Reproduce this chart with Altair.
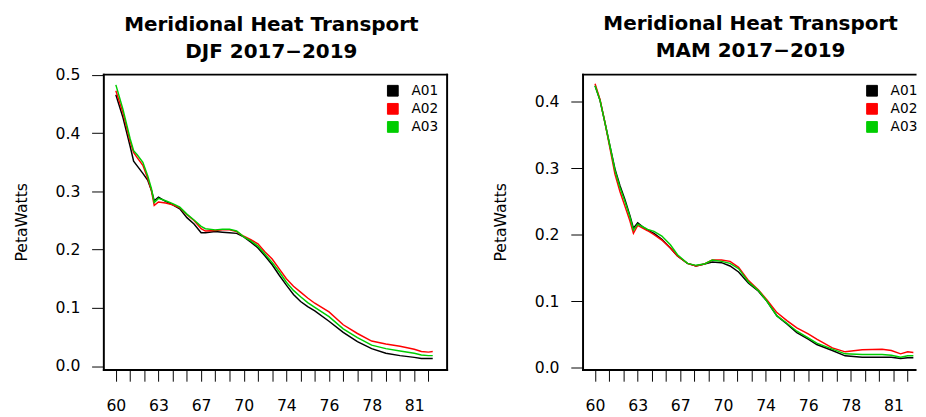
import altair as alt
import pandas as pd

# ---- data ----
series = ["A01", "A02", "A03"]
colors = ["#000000", "#FF0000", "#00CD00"]
tick_labels = ["60", "63", "67", "70", "74", "76", "78", "81"]
n_ticks = 23          # tick positions 0..22, every 3rd labelled

djf_x = [0, 0.5, 1, 1.25, 1.5, 1.9, 2.25, 2.5, 2.7, 3, 3.5, 4, 4.5, 5, 5.5, 6, 6.3,
         7, 7.5, 8, 8.5, 9, 9.5, 10, 10.5, 11, 11.5, 12, 12.5, 13, 13.5, 14, 15,
         16, 17, 18, 19, 20, 21, 21.5, 22, 22.3]
djf_a01 = [.466, .427, .378, .352, .344, .331, .319, .302, .284, .290, .283, .277, .270,
           .255, .244, .229, .229, .231, .230, .229, .228, .222, .213, .203, .189, .174,
           .156, .139, .123, .111, .102, .095, .077, .058, .042, .030, .022, .018, .015,
           .013, .013, .013]
djf_a02 = [.473, .435, .386, .367, .358, .345, .322, .302, .276, .282, .280, .277, .272,
           .260, .250, .236, .232, .233, .234, .234, .231, .223, .217, .210, .196, .184,
           .167, .150, .137, .127, .117, .108, .093, .071, .056, .043, .038, .034, .029,
           .025, .024, .025]
djf_a03 = [.483, .441, .391, .370, .363, .350, .326, .305, .281, .288, .284, .279, .273,
           .261, .251, .240, .236, .234, .235, .235, .232, .222, .215, .206, .192, .178,
           .162, .144, .130, .119, .109, .101, .085, .064, .049, .036, .030, .026, .022,
           .019, .018, .018]

mam_x = [0, 0.35, 0.7, 1.05, 1.4, 1.75, 2.1, 2.45, 2.7, 3, 3.35, 3.7, 4.15, 4.7, 5.3,
         5.8, 6.5, 7.1, 7.7, 8.25, 8.9, 9.5, 10.1, 10.8, 11.5, 12.1, 12.8, 13.5, 14.2,
         15, 15.6, 16.7, 17.6, 18.8, 20.2, 20.85, 21.5, 22, 22.4]
mam_a01 = [.424, .402, .368, .333, .299, .274, .253, .229, .210, .218, .212, .207, .202,
           .193, .180, .168, .157, .153, .156, .159, .158, .153, .144, .127, .115, .100,
           .078, .066, .053, .043, .035, .026, .018, .016, .016, .016, .014, .015, .015]
mam_a02 = [.427, .403, .368, .330, .291, .265, .243, .221, .202, .214, .210, .206, .200,
           .192, .180, .168, .157, .153, .156, .162, .162, .160, .151, .131, .117, .102,
           .083, .071, .060, .051, .043, .030, .024, .027, .028, .026, .021, .024, .023]
mam_a03 = [.424, .402, .368, .333, .297, .271, .250, .227, .207, .216, .212, .208, .205,
           .198, .185, .170, .157, .154, .156, .162, .160, .157, .149, .129, .116, .100,
           .078, .067, .055, .045, .037, .028, .021, .020, .020, .019, .016, .018, .018]

FONT = "DejaVu Sans"
label_expr = ("datum.value % 3 == 0 ? " + str(tick_labels) + "[datum.value / 3] : ''")
PX_PER_IDX = 14.53
X0 = -0.88
FRAME_W = 2


def panel(xs, ys_list, season, y_ticks, y_domain, width, title_offset, title_dx,
          legend_x, right_edge):
    rows = []
    for s, ys in zip(series, ys_list):
        for xv, yv in zip(xs, ys):
            rows.append({"idx": xv, "pw": yv, "run": s})
    df = pd.DataFrame(rows)

    x_scale = alt.Scale(domain=[X0, X0 + width / PX_PER_IDX], nice=False, zero=False)
    y_scale = alt.Scale(domain=y_domain, nice=False, zero=False)

    frame_axis = dict(labels=False, ticks=False, grid=False, title=None, domain=True,
                      domainColor="black", domainWidth=FRAME_W, domainCap="square")

    keys = alt.Chart(df).transform_filter("datum.idx < -100").mark_point(
        filled=True, shape="square"
    ).encode(
        x=alt.X("idx:Q", scale=x_scale, axis=alt.Axis(orient="top", **frame_axis)),
        y=alt.Y("pw:Q", scale=y_scale,
                axis=alt.Axis(orient="right", **frame_axis) if right_edge else None),
        fill=alt.Fill("run:N", scale=alt.Scale(domain=series, range=colors),
                      legend=alt.Legend(title=None, orient="none", legendX=legend_x,
                                        legendY=10, symbolType="square", symbolSize=121,
                                        symbolStrokeColor="black", symbolStrokeWidth=1,
                                        symbolOpacity=1, labelFont=FONT, labelFontSize=14,
                                        labelColor="black", labelOffset=12, rowPadding=2.5)),
    )
    lines = alt.Chart(df).mark_line(strokeWidth=1.5).encode(
        x=alt.X("idx:Q", scale=x_scale,
                axis=alt.Axis(orient="bottom", values=list(range(n_ticks)),
                              labelExpr=label_expr, title=None, grid=False,
                              domain=True, domainColor="black", domainWidth=FRAME_W,
                              domainCap="square", tickSize=12, labelPadding=17,
                              labelOverlap=False, labelFlush=False)),
        y=alt.Y("pw:Q", scale=y_scale,
                axis=alt.Axis(orient="left", values=y_ticks, format=".1f",
                              title="PetaWatts", grid=False, domain=True,
                              domainColor="black", domainWidth=FRAME_W, domainCap="square",
                              tickSize=12, labelPadding=12, titlePadding=26,
                              labelOverlap=False, labelFlush=False)),
        stroke=alt.Stroke("run:N", scale=alt.Scale(domain=series, range=colors), legend=None),
    )
    return alt.layer(keys, lines).resolve_axis(x="independent", y="independent").properties(
        width=width, height=302,
        title=alt.TitleParams(["Meridional Heat Transport", season + " 2017\u22122019"],
                              font=FONT, fontSize=20.4, fontWeight="bold", color="black",
                              lineHeight=27.5, anchor="middle", frame="group",
                              offset=title_offset, dx=title_dx),
    )


left = panel(djf_x, [djf_a01, djf_a02, djf_a03], "DJF",
             [0, 0.1, 0.2, 0.3, 0.4, 0.5], [-0.0058, 0.5015], 351, 5, -3.7, 289, True)
right = panel(mam_x, [mam_a01, mam_a02, mam_a03], "MAM",
              [0, 0.1, 0.2, 0.3, 0.4], [-0.0025, 0.4414], 340, 13, 1.8, 289, False)

chart = (
    alt.hconcat(left, right, spacing=47)
    .resolve_scale(fill="independent", stroke="independent")
    .resolve_legend(fill="independent")
    .properties(padding={"left": 5.5, "top": 2, "right": 0, "bottom": 0})
    .configure_view(stroke=None)
    .configure_axis(labelFont=FONT, labelFontSize=16, labelColor="black",
                    titleFont=FONT, titleFontSize=16, titleFontWeight="normal",
                    titleColor="black", tickColor="black", tickWidth=1)
)

chart.save("out.html", embed_options={"renderer": "svg", "actions": False})
